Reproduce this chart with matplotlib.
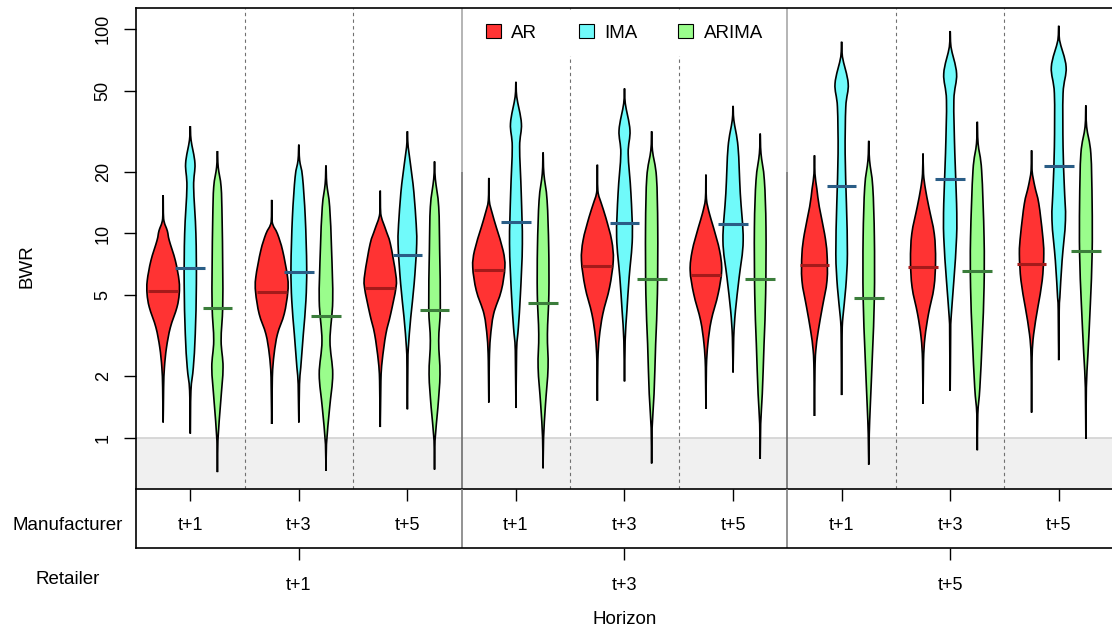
import numpy as np
import matplotlib.pyplot as plt
from matplotlib.path import Path
from matplotlib.patches import PathPatch, Patch

plt.rcParams['font.family'] = ['Liberation Sans', 'DejaVu Sans']

horizons = ['t+1', 't+3', 't+5']
models = ['AR', 'IMA', 'ARIMA']

# groups ordered retailer (outer) x manufacturer (inner)
ar_median = [5.26, 5.2, 5.44, 6.59, 6.92, 6.27, 7.03, 6.89, 7.13]
ima_median = [6.79, 6.46, 7.83, 11.4, 11.3, 11.1, 17.0, 18.5, 21.3]
arima_median = [4.34, 3.96, 4.2, 4.57, 5.97, 5.97, 4.84, 6.53, 8.25]

# density outlines: BWR values (bottom to top) and relative density at each
ar_values = [
    [1.19, 1.76, 2.21, 2.77, 3.47, 4.35, 5.06, 5.88, 7.37, 9.25, 10.3, 11.8, 15.4],
    [1.17, 1.98, 2.57, 3.22, 4.04, 5.15, 6.1, 8.25, 9.96, 11.4, 14.6],
    [1.13, 1.90, 2.38, 3.22, 4.04, 5.45, 6.35, 8.9, 10.5, 12.5, 16.2],
    [1.49, 2.38, 3.1, 4.04, 5.26, 6.84, 8.25, 10.7, 12.5, 14.5, 18.7],
    [1.52, 2.38, 3.1, 4.04, 5.45, 7.37, 9.25, 12.0, 14.0, 16.2, 21.7],
    [1.39, 2.21, 2.88, 3.75, 5.06, 6.59, 8.25, 10.7, 12.5, 14.8, 19.4],
    [1.28, 2.13, 2.67, 3.35, 4.35, 5.88, 7.95, 9.96, 13.5, 16.5, 19.6, 24.1],
    [1.47, 2.38, 3.1, 4.04, 5.45, 7.37, 9.96, 13.5, 16.5, 19.6, 24.6],
    [1.33, 2.47, 3.22, 4.35, 5.88, 7.95, 9.96, 14.0, 17.0, 20.3, 25.5],
]
ar_density = [
    [0, .03, .08, .21, .45, .86, 1.0, .99, .76, .38, .26, .03, 0],
    [0, .04, .15, .36, .78, 1.0, .99, .68, .36, .03, 0],
    [0, .04, .12, .35, .65, .98, .96, .63, .33, .03, 0],
    [0, .03, .10, .30, .78, 1.0, .89, .47, .22, .03, 0],
    [0, .03, .12, .34, .76, .99, .89, .52, .25, .03, 0],
    [0, .03, .12, .33, .76, .98, .85, .47, .22, .03, 0],
    [0, .03, .08, .24, .49, .78, .78, .63, .30, .15, .03, 0],
    [0, .03, .12, .34, .68, .78, .70, .36, .15, .03, 0],
    [0, .03, .13, .39, .66, .76, .68, .45, .20, .03, 0],
]
ima_values = [
    [1.05, 1.70, 2.21, 3.22, 5.67, 9.96, 16.9, 22.0, 28.6, 33.5],
    [1.19, 1.83, 2.21, 3.22, 4.69, 6.84, 12.0, 18.9, 22.8, 27.2],
    [1.38, 2.3, 2.77, 3.89, 5.67, 8.9, 12.0, 17.5, 26.5, 31.6],
    [1.40, 2.67, 3.47, 5.06, 8.9, 15.7, 26.5, 34.5, 46.6, 55.2],
    [1.89, 2.99, 4.2, 6.1, 9.6, 15.7, 24.6, 32.0, 43.2, 51.2],
    [2.09, 3.1, 4.2, 6.1, 9.25, 15.7, 26.5, 35.8, 42.1],
    [1.62, 3.2, 3.9, 5.45, 7.95, 14.0, 24.6, 41.6, 54.1, 73.2, 86.7],
    [1.70, 3.2, 3.9, 5.88, 9.6, 14.0, 24.6, 44.8, 60.5, 81.8, 97.8],
    [2.40, 4.2, 4.87, 7.37, 11.6, 16.9, 26.5, 48.4, 65.3, 88.3, 103.8],
]
ima_density = [
    [0, .04, .19, .31, .38, .35, .21, .29, .05, 0],
    [0, .04, .12, .28, .44, .49, .40, .23, .05, 0],
    [0, .03, .06, .21, .42, .58, .52, .35, .05, 0],
    [0, .04, .15, .28, .40, .33, .23, .34, .05, 0],
    [0, .04, .15, .29, .49, .40, .23, .34, .05, 0],
    [0, .04, .15, .38, .63, .45, .31, .05, 0],
    [0, .03, .08, .26, .36, .30, .22, .26, .41, .05, 0],
    [0, .03, .06, .23, .40, .40, .29, .23, .40, .05, 0],
    [0, .03, .07, .21, .42, .35, .27, .27, .46, .05, 0],
]
arima_values = [
    [0.68, 0.97, 1.52, 2.21, 2.99, 4.35, 6.84, 12.0, 16.9, 21.1, 25.3],
    [0.69, 0.93, 1.41, 2.05, 2.99, 4.69, 8.25, 13.5, 17.5, 21.5],
    [0.70, 0.97, 1.41, 2.05, 2.99, 4.35, 8.25, 13.5, 18.5, 22.5],
    [0.71, 1.0, 1.46, 2.21, 3.22, 5.06, 8.57, 14.5, 19.6, 24.9],
    [0.75, 1.12, 1.64, 2.88, 5.06, 10.7, 18.9, 25.5, 31.6],
    [0.79, 1.17, 1.64, 2.88, 5.06, 10.7, 18.2, 24.6, 30.8],
    [0.74, 1.04, 1.46, 2.57, 4.87, 9.6, 16.9, 22.8, 28.4],
    [0.87, 1.31, 1.76, 3.1, 5.45, 9.6, 20.3, 27.5, 35.2],
    [0.99, 1.76, 2.57, 4.52, 7.95, 14.0, 24.6, 33.2, 42.3],
]
arima_density = [
    [0, .03, .21, .35, .23, .33, .33, .29, .23, .05, 0],
    [0, .03, .23, .42, .25, .42, .35, .23, .05, 0],
    [0, .03, .21, .34, .26, .36, .32, .26, .05, 0],
    [0, .03, .15, .31, .27, .36, .35, .25, .05, 0],
    [0, .03, .15, .25, .36, .38, .30, .05, 0],
    [0, .03, .13, .24, .34, .36, .26, .05, 0],
    [0, .03, .10, .23, .35, .35, .25, .05, 0],
    [0, .03, .16, .31, .42, .42, .27, .05, 0],
    [0, .03, .13, .28, .39, .39, .31, .05, 0],
]

fills = ['#FF3333', '#70FAFA', '#9AFD8C']
med_cols = ['#A51A1A', '#2A5D86', '#3B7D3B']
offsets = [-0.25, 0.0, 0.25]
half_max = 0.148   # widest half-violin, in group units
med_half = 0.137


def violin_path(xc, vals, dens):
    ly = np.log10(vals)
    hw = np.asarray(dens, dtype=float) * half_max
    px = np.concatenate([xc + hw, (xc - hw)[-2:0:-1]])
    py = np.concatenate([ly, ly[-2:0:-1]])
    pts = np.column_stack([px, py])
    m = len(pts)
    verts = [pts[0]]
    codes = [Path.MOVETO]
    for i in range(m):
        p0, p1, p2, p3 = pts[i - 1], pts[i], pts[(i + 1) % m], pts[(i + 2) % m]
        c1 = p1 + (p2 - p0) / 6
        c2 = p2 - (p3 - p1) / 6
        side = np.sign(p1[0] + p2[0] - 2 * xc)
        for c in (c1, c2):
            if side > 0:
                c[0] = max(c[0], xc)
            elif side < 0:
                c[0] = min(c[0], xc)
        verts += [c1, c2, p2]
        codes += [Path.CURVE4] * 3
    verts = np.array(verts)
    verts[:, 1] = 10 ** verts[:, 1]
    return Path(verts, codes)


W, H = 1112, 633
fig = plt.figure(figsize=(W / 100, H / 100), dpi=100)
ax = fig.add_axes([136 / W, 1 - 489 / H, 977 / W, 481 / H])
ax.set_yscale('log')
ylo, yhi = 10 ** -0.25, 10 ** 2.103
ax.set_ylim(ylo, yhi)
ax.set_xlim(0, 9)

# shaded band below BWR = 1
ax.axhspan(ylo, 1, color='#F0F0F0', zorder=0, lw=0)
ax.axhline(1, color='#D2D2D2', lw=1.2, zorder=0.5)

# separators between horizons
for x in [1, 2, 4, 5, 7, 8]:
    ax.axvline(x, color='#707070', lw=0.8, ls=(0, (3, 3)), zorder=0.6)
for x in [3, 6]:
    ax.vlines(x, ylo, 20, color='#6E6E6E', lw=1.2, zorder=0.6)
    ax.vlines(x, 20, yhi, color='#A8A8A8', lw=1.2, zorder=0.6)

all_values = [ar_values, ima_values, arima_values]
all_density = [ar_density, ima_density, arima_density]
all_median = [ar_median, ima_median, arima_median]

for k in range(3):
    for g in range(9):
        xc = g + 0.5 + offsets[k]
        patch = PathPatch(violin_path(xc, all_values[k][g], all_density[k][g]),
                          facecolor=fills[k], edgecolor='black', lw=1.2, zorder=2)
        ax.add_patch(patch)
for k in range(3):
    for g in range(9):
        xc = g + 0.5 + offsets[k]
        ax.hlines(all_median[k][g], xc - med_half, xc + med_half,
                  color=med_cols[k], lw=2.2, zorder=3)

ax.set_yticks([1, 2, 5, 10, 20, 50, 100])
ax.set_yticklabels(['1', '2', '5', '10', '20', '50', '100'], rotation=90, va='center')
ax.yaxis.set_minor_locator(plt.NullLocator())
ax.tick_params(axis='y', length=8.5, width=1, pad=9, labelsize=13)
ax.set_xticks([g + 0.5 for g in range(9)])
ax.set_xticklabels([])
ax.tick_params(axis='x', length=8.5, width=1)
for s in ['left', 'top', 'bottom']:
    ax.spines[s].set_linewidth(1.2)

handles = [Patch(facecolor=fills[k], edgecolor='black', lw=0.8) for k in range(3)]
leg = ax.legend(handles, models, loc='upper center', bbox_to_anchor=(0.5, 1.0),
                ncol=3, fontsize=13.5, frameon=True, borderaxespad=0.1,
                borderpad=0.75, handlelength=0.8, handleheight=0.8,
                handletextpad=0.55, columnspacing=2.2)
leg.get_frame().set_facecolor('white')
leg.get_frame().set_edgecolor('none')
leg.get_frame().set_alpha(1)
leg.set_zorder(5)

# horizon table below the plot
ax2 = fig.add_axes([136 / W, 1 - 548 / H, 977 / W, 59 / H])
ax2.set_xlim(0, 9)
ax2.set_ylim(0, 1)
ax2.set_yticks([])
ax2.set_xticks([1.5, 4.5, 7.5])
ax2.set_xticklabels([])
ax2.tick_params(axis='x', length=8.5, width=1)
ax2.spines['top'].set_visible(False)
ax2.spines['right'].set_visible(False)
ax2.spines['left'].set_linewidth(1.2)
ax2.spines['bottom'].set_linewidth(1.2)
ax2.patch.set_alpha(0)
for x in [3, 6]:
    ax2.axvline(x, color='#808080', lw=1.2)

for g in range(9):
    xp = 136 + (g + 0.5) * 977 / 9
    fig.text(xp / W, 1 - 525 / H, horizons[g % 3], ha='center', va='center', fontsize=13)
for r in range(3):
    xp = 136 + (3 * r + 1.5) * 977 / 9
    fig.text(xp / W, 1 - 586 / H, horizons[r], ha='center', va='center', fontsize=13)

fig.text(68 / W, 1 - 525 / H, 'Manufacturer', ha='center', va='center', fontsize=13.5)
fig.text(68 / W, 1 - 579 / H, 'Retailer', ha='center', va='center', fontsize=13.5)
fig.text(625 / W, 1 - 619 / H, 'Horizon', ha='center', va='center', fontsize=13.5)
fig.text(27 / W, 1 - 266 / H, 'BWR', ha='center', va='center', rotation=90, fontsize=13.5)

fig.savefig('out.png', dpi=100)
